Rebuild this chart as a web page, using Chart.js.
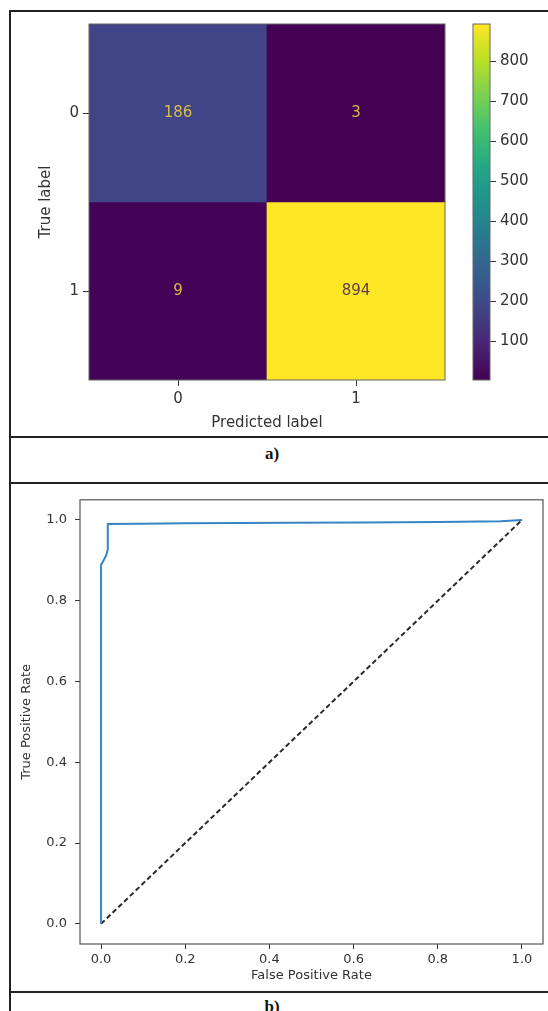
<!DOCTYPE html>
<html>
<head>
<meta charset="utf-8">
<title>Confusion matrix and ROC curve</title>
<script src="https://cdn.jsdelivr.net/npm/chart.js@4.4.0/dist/chart.umd.min.js"></script>
<style>
  html, body { margin: 0; padding: 0; background: #fff; }
  body { width: 548px; height: 1011px; position: relative; overflow: hidden; }
  canvas { position: absolute; }
  .rule { position: absolute; background: #222; }
  .cap { position: absolute; width: 60px; text-align: center; font: bold 17px "Liberation Serif", "Times New Roman", serif; color: #111; line-height: 20px; }
</style>
</head>
<body>
<!-- table rules around the two figures -->
<div class="rule" style="left:9px; top:10px; width:2px; height:1001px"></div>
<div class="rule" style="left:9px; top:10px; width:539px; height:2px"></div>
<div class="rule" style="left:9px; top:436px; width:539px; height:2px"></div>
<div class="rule" style="left:9px; top:482px; width:539px; height:2px"></div>
<div class="rule" style="left:9px; top:991px; width:539px; height:2px"></div>
<div class="cap" style="left:242px; top:444px">a)</div>
<div class="cap" style="left:242px; top:997px">b)</div>

<canvas id="cm" width="460" height="436" style="left:0; top:0"></canvas>
<canvas id="cbar" width="88" height="436" style="left:460px; top:0"></canvas>
<canvas id="roc" width="548" height="507" style="left:0; top:484px"></canvas>

<script>
// confusion matrix
const classLabels = ['0', '1'];
const counts = [
    [186, 3],
    [9, 894]
];
const cbarTicks = [100, 200, 300, 400, 500, 600, 700, 800];

// ROC curve
const fpr = [0, 0, 0.004, 0.012, 0.016, 0.016, 0.09, 0.2, 0.45, 0.62, 0.8, 0.95, 1.0];
const tpr = [0, 0.889, 0.896, 0.912, 0.927, 0.990, 0.991, 0.992, 0.993, 0.994, 0.995, 0.997, 1.0];
const chanceX = [0, 1];
const chanceY = [0, 1];
const rocTicks = [0, 0.2, 0.4, 0.6, 0.8, 1.0];

const textColor = '#333';
const fontFamily = '"DejaVu Sans", sans-serif';
const viridis = ['#440154', '#482475', '#414487', '#355f8d', '#2a788e', '#21918c',
                 '#22a884', '#44bf70', '#7ad151', '#bddf26', '#fde725'];

function hexToRgb(h) {
    return [1, 3, 5].map(i => parseInt(h.substr(i, 2), 16));
}

function viridisAt(t) {
    t = Math.max(0, Math.min(1, t));
    const p = t * (viridis.length - 1);
    const i = Math.min(viridis.length - 2, Math.floor(p));
    const f = p - i;
    const a = hexToRgb(viridis[i]);
    const b = hexToRgb(viridis[i + 1]);
    const c = a.map((v, k) => Math.round(v + (b[k] - v) * f));
    return `rgb(${c[0]},${c[1]},${c[2]})`;
}

const flat = counts.flat();
const vMin = Math.min(...flat);
const vMax = Math.max(...flat);
const norm = v => (v - vMin) / (vMax - vMin);

// outline around the plot area (matplotlib-style spines)
const frame = {
    id: 'frame',
    afterDraw(chart, args, opts) {
        const { ctx, chartArea: a } = chart;
        ctx.save();
        ctx.strokeStyle = opts.color;
        ctx.lineWidth = opts.width;
        ctx.strokeRect(a.left, a.top, a.right - a.left, a.bottom - a.top);
        ctx.restore();
    }
};

// count written in the middle of each cell
const cellText = {
    id: 'cellText',
    afterDatasetsDraw(chart) {
        const { ctx, scales: { x, y } } = chart;
        ctx.save();
        ctx.font = '15px ' + fontFamily;
        ctx.textAlign = 'center';
        ctx.textBaseline = 'middle';
        counts.forEach((row, r) => row.forEach((v, c) => {
            ctx.fillStyle = norm(v) < 0.5 ? '#d9bd45' : '#5e3c4e';
            ctx.fillText(String(v), x.getPixelForValue(c), y.getPixelForValue(r));
        }));
        ctx.restore();
    }
};

const tickGrid = { drawOnChartArea: false, drawTicks: true, tickLength: 6, tickColor: textColor };

new Chart(document.getElementById('cm'), {
    type: 'bar',
    data: {
        labels: classLabels,
        datasets: counts.map((row, r) => ({
            data: row.map(() => [r - 0.5, r + 0.5]),
            backgroundColor: row.map(v => viridisAt(norm(v))),
            borderWidth: 0,
            barPercentage: 1,
            categoryPercentage: 1,
            grouped: false
        }))
    },
    options: {
        responsive: false,
        animation: false,
        layout: { padding: { left: 0, top: 24, right: 15, bottom: 0 } },
        plugins: {
            legend: { display: false },
            tooltip: { enabled: false },
            frame: { color: '#666', width: 1 }
        },
        scales: {
            x: {
                grid: { ...tickGrid, offset: false },
                border: { display: false },
                ticks: { color: textColor, font: { family: fontFamily, size: 15 }, padding: 4 },
                title: { display: true, text: 'Predicted label', color: textColor,
                         font: { family: fontFamily, size: 15 }, padding: { top: 0, bottom: 4 } },
                afterFit: s => { s.height = 56; }
            },
            y: {
                min: -0.5,
                max: 1.5,
                reverse: true,
                grid: tickGrid,
                border: { display: false },
                afterBuildTicks: s => { s.ticks = classLabels.map((_, i) => ({ value: i })); },
                ticks: { color: textColor, font: { family: fontFamily, size: 15 }, padding: 4,
                         callback: v => classLabels[v] },
                title: { display: true, text: 'True label', color: textColor,
                         font: { family: fontFamily, size: 15 }, padding: { top: 37, bottom: 0 } },
                afterFit: s => { s.width = 89; }
            }
        }
    },
    plugins: [frame, cellText]
});

// colour bar: a single floating bar spanning the count range, filled with viridis
new Chart(document.getElementById('cbar'), {
    type: 'bar',
    data: {
        labels: [''],
        datasets: [{
            data: [[vMin, vMax]],
            backgroundColor: ctx => {
                const area = ctx.chart.chartArea;
                if (!area) return viridis[0];
                const g = ctx.chart.ctx.createLinearGradient(0, area.bottom, 0, area.top);
                viridis.forEach((c, i) => g.addColorStop(i / (viridis.length - 1), c));
                return g;
            },
            borderWidth: 0,
            barPercentage: 1,
            categoryPercentage: 1
        }]
    },
    options: {
        responsive: false,
        animation: false,
        layout: { padding: { left: 13, top: 24, right: 0, bottom: 56 } },
        plugins: {
            legend: { display: false },
            tooltip: { enabled: false },
            frame: { color: '#666', width: 1 }
        },
        scales: {
            x: { display: false },
            y: {
                position: 'right',
                min: vMin,
                max: vMax,
                grid: tickGrid,
                border: { display: false },
                afterBuildTicks: s => { s.ticks = cbarTicks.map(v => ({ value: v })); },
                ticks: { color: textColor, font: { family: fontFamily, size: 15 }, padding: 4 },
                afterFit: s => { s.width = 58; }
            }
        }
    },
    plugins: [frame]
});

const rocGrid = { drawOnChartArea: false, drawTicks: true, tickLength: 5, tickColor: textColor };

new Chart(document.getElementById('roc'), {
    type: 'line',
    data: {
        datasets: [
            {
                data: fpr.map((x, i) => ({ x, y: tpr[i] })),
                borderColor: '#3585c6',
                borderWidth: 2,
                pointRadius: 0,
                tension: 0
            },
            {
                data: chanceX.map((x, i) => ({ x, y: chanceY[i] })),
                borderColor: '#2a2a2a',
                borderWidth: 2,
                borderDash: [5, 3],
                pointRadius: 0,
                tension: 0
            }
        ]
    },
    options: {
        responsive: false,
        animation: false,
        layout: { padding: { left: 0, top: 5, right: 5, bottom: 0 } },
        plugins: {
            legend: { display: false },
            tooltip: { enabled: false },
            frame: { color: '#555', width: 1.2 }
        },
        scales: {
            x: {
                type: 'linear',
                min: -0.05,
                max: 1.05,
                grid: rocGrid,
                border: { display: false },
                afterBuildTicks: s => { s.ticks = rocTicks.map(v => ({ value: v })); },
                ticks: { color: textColor, font: { family: fontFamily, size: 13 }, padding: 3,
                         callback: v => v.toFixed(1) },
                title: { display: true, text: 'False Positive Rate', color: textColor,
                         font: { family: fontFamily, size: 13 }, padding: { top: 0, bottom: 8 } },
                afterFit: s => { s.height = 47; }
            },
            y: {
                type: 'linear',
                min: -0.05,
                max: 1.05,
                grid: rocGrid,
                border: { display: false },
                afterBuildTicks: s => { s.ticks = rocTicks.map(v => ({ value: v })); },
                ticks: { color: textColor, font: { family: fontFamily, size: 13 }, padding: 8,
                         callback: v => v.toFixed(1) },
                title: { display: true, text: 'True Positive Rate', color: textColor,
                         font: { family: fontFamily, size: 13 }, padding: { top: 19, bottom: 0 } },
                afterFit: s => { s.width = 80; }
            }
        }
    },
    plugins: [frame]
});
</script>
</body>
</html>
